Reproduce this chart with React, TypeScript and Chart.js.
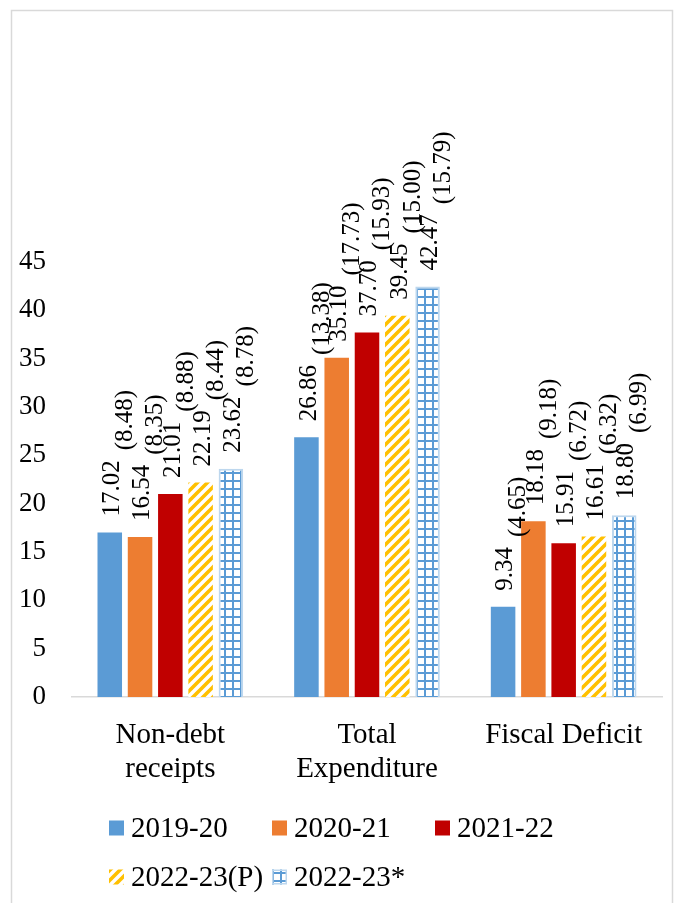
import React, { useEffect, useRef } from "react";
import { Chart, registerables } from "chart.js";

Chart.register(...registerables);

const categories: string[][] = [["Non-debt", "receipts"], ["Total", "Expenditure"], ["Fiscal Deficit"]];
const seriesLabels = ["2019-20", "2020-21", "2021-22", "2022-23(P)", "2022-23*"];

const values2019 = [17.02, 26.86, 9.34];
const pct2019 = ["8.48", "13.38", "4.65"];
const values2020 = [16.54, 35.1, 18.18];
const pct2020 = ["8.35", "17.73", "9.18"];
const values2021 = [21.01, 37.7, 15.91];
const pct2021 = ["8.88", "15.93", "6.72"];
const values2022P = [22.19, 39.45, 16.61];
const pct2022P = ["8.44", "15.00", "6.32"];
const values2022S = [23.62, 42.47, 18.8];
const pct2022S = ["8.78", "15.79", "6.99"];

const yTicks = { min: 0, max: 45, step: 5 };

const FONT = "'Liberation Serif', 'Times New Roman', serif";

function makeHatch(): CanvasPattern | string {
  const c = document.createElement("canvas");
  const s = 10;
  c.width = s;
  c.height = s;
  const g = c.getContext("2d")!;
  g.fillStyle = "#ffffff";
  g.fillRect(0, 0, s, s);
  g.strokeStyle = "#FFC000";
  g.lineWidth = 3.6;
  g.lineCap = "square";
  const lines = [
    [-s / 2, s / 2, s / 2, -s / 2],
    [0, s, s, 0],
    [s / 2, s * 1.5, s * 1.5, s / 2],
  ];
  for (const [a, b, cc, d] of lines) {
    g.beginPath();
    g.moveTo(a, b);
    g.lineTo(cc, d);
    g.stroke();
  }
  return g.createPattern(c, "repeat") || "#FFC000";
}

function makeGrid(): CanvasPattern | string {
  const c = document.createElement("canvas");
  const s = 8;
  c.width = s;
  c.height = s;
  const g = c.getContext("2d")!;
  g.fillStyle = "#ffffff";
  g.fillRect(0, 0, s, s);
  g.fillStyle = "#5B9BD5";
  g.fillRect(0, 0, s, 2);
  g.fillRect(0, 0, 2, s);
  return g.createPattern(c, "repeat") || "#5B9BD5";
}

export default function App() {
  const ref = useRef<HTMLCanvasElement | null>(null);

  useEffect(() => {
    if (!ref.current) return;
    const hatch = makeHatch();
    const grid = makeGrid();
    const pcts = [pct2019, pct2020, pct2021, pct2022P, pct2022S];

    const borderPlugin = {
      id: "outerBorder",
      beforeDraw(chart: any) {
        const ctx = chart.ctx;
        ctx.save();
        ctx.fillStyle = "#ffffff";
        ctx.fillRect(0, 0, chart.width, chart.height);
        ctx.strokeStyle = "#D9D9D9";
        ctx.lineWidth = 1.5;
        ctx.strokeRect(11.5, 10.5, 661, 1000);
        ctx.restore();
      },
    };

    const labelPlugin = {
      id: "barLabels",
      afterDatasetsDraw(chart: any) {
        const ctx = chart.ctx;
        const fs = 25;
        ctx.save();
        ctx.font = `${fs}px ${FONT}`;
        ctx.fillStyle = "#000000";
        ctx.textAlign = "left";
        ctx.textBaseline = "alphabetic";
        chart.data.datasets.forEach((ds: any, di: number) => {
          const meta = chart.getDatasetMeta(di);
          meta.data.forEach((el: any, i: number) => {
            const v = ds.data[i] as number;
            const txt = v.toFixed(2);
            const p = `(${pcts[di][i]})`;
            ctx.save();
            ctx.translate(el.x, el.y - 16);
            ctx.rotate(-Math.PI / 2);
            const w = ctx.measureText(txt).width;
            ctx.fillText(txt, 0, 1 + fs * 0.33);
            ctx.fillText(p, w + 10, 14 + fs * 0.33);
            ctx.restore();
          });
        });
        ctx.restore();
      },
    };

    const legendPlugin = {
      id: "customLegend",
      afterDraw(chart: any) {
        const ctx = chart.ctx;
        const colX = [109, 272, 435];
        const rowY = [828, 877];
        ctx.save();
        ctx.font = `29px ${FONT}`;
        ctx.textAlign = "left";
        ctx.textBaseline = "middle";
        chart.data.datasets.forEach((ds: any, i: number) => {
          const col = i % 3;
          const row = Math.floor(i / 3);
          const x = colX[col];
          const y = rowY[row];
          ctx.fillStyle = ds.backgroundColor;
          ctx.fillRect(x, y - 7.5, 15, 15);
          if (ds.borderWidth) {
            ctx.strokeStyle = ds.borderColor;
            ctx.lineWidth = 1.5;
            ctx.strokeRect(x + 0.75, y - 6.75, 13.5, 13.5);
          }
          ctx.fillStyle = "#000000";
          ctx.fillText(ds.label, x + 22, y + 1);
        });
        ctx.restore();
      },
    };

    const chart = new Chart(ref.current, {
      type: "bar",
      data: {
        labels: categories,
        datasets: [
          { label: seriesLabels[0], data: values2019, backgroundColor: "#5B9BD5", borderWidth: 0 },
          { label: seriesLabels[1], data: values2020, backgroundColor: "#ED7D31", borderWidth: 0 },
          { label: seriesLabels[2], data: values2021, backgroundColor: "#C00000", borderWidth: 0 },
          { label: seriesLabels[3], data: values2022P, backgroundColor: hatch as any, borderWidth: 0 },
          {
            label: seriesLabels[4],
            data: values2022S,
            backgroundColor: grid as any,
            borderColor: "#BDD7EE",
            borderWidth: 2,
          },
        ],
      },
      options: {
        responsive: false,
        animation: false,
        devicePixelRatio: 1,
        layout: { padding: { top: 262, left: 19, right: 16, bottom: 111 } },
        datasets: { bar: { categoryPercentage: 0.77, barPercentage: 0.81 } },
        plugins: { legend: { display: false }, tooltip: { enabled: false }, title: { display: false } },
        scales: {
          x: {
            grid: { display: false, drawTicks: false },
            border: { display: true, color: "#D9D9D9", width: 1.5 },
            ticks: {
              color: "#000000",
              font: { family: FONT, size: 29, lineHeight: 1.15 },
              padding: 22,
              maxRotation: 0,
              autoSkip: false,
            },
            afterFit: (s: any) => {
              s.height = 95;
            },
          },
          y: {
            min: yTicks.min,
            max: yTicks.max,
            grid: { display: false, drawTicks: false },
            border: { display: false },
            ticks: {
              stepSize: yTicks.step,
              color: "#000000",
              font: { family: FONT, size: 27 },
              padding: 26,
            },
            afterFit: (s: any) => {
              s.width = 53;
            },
          },
        },
      },
      plugins: [borderPlugin, labelPlugin, legendPlugin],
    });
    return () => chart.destroy();
  }, []);

  return (
    <div style={{ position: "fixed", left: 0, top: 0, width: 678, height: 903, background: "#fff" }}>
      <canvas ref={ref} width={678} height={903} style={{ display: "block", width: 678, height: 903 }} />
    </div>
  );
}
